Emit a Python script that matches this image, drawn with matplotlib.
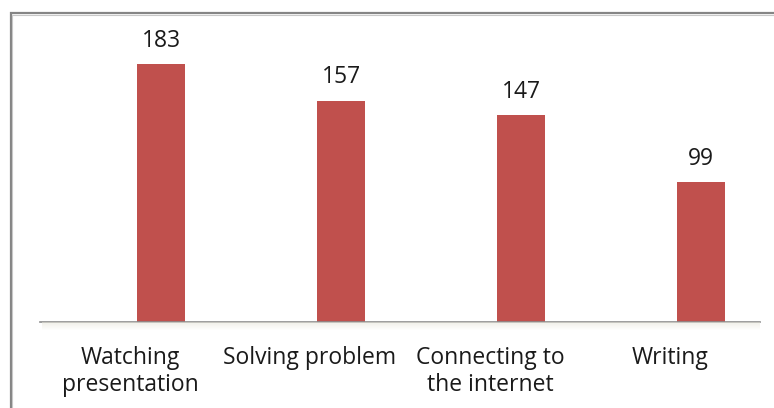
import matplotlib
matplotlib.use("Agg")
import matplotlib.pyplot as plt
import numpy as np
from matplotlib.patches import Rectangle

categories = ["Watching\npresentation", "Solving problem", "Connecting to\nthe internet", "Writing"]
values = [183, 157, 147, 99]

_BAR = "#c0504d"
_AX = "#8c8c8c"
_TXT = "#1a1a1a"

fig = plt.figure(figsize=(7.74, 4.08), dpi=100, facecolor="white")
plt.rcParams["font.family"] = ["Open Sans", "DejaVu Sans"]

# outer frame (runs off the right/bottom edge)
W, H = 774, 408
fig.patches.append(Rectangle((11 / W, -0.1), 1.2, (H - 13) / H + 0.1,
                             transform=fig.transFigure, fill=False,
                             edgecolor="#858585", linewidth=1.6, zorder=0))
fig.patches.append(Rectangle((12.5 / W, -0.1), 1.2, (H - 14.5) / H + 0.1,
                             transform=fig.transFigure, fill=False,
                             edgecolor="#c8c8c8", linewidth=0.8, zorder=0))

ax = fig.add_axes([40 / W, (H - 322) / H, 720 / W, 275 / H])
ax.set_facecolor("white")

# soft shadow under the plot area
for k in range(8):
    fig.patches.append(Rectangle((42 / W, (H - 322 - k - 1) / H), 718 / W, 1 / H,
                                 transform=fig.transFigure, facecolor="#e6e4d8",
                                 edgecolor="none", alpha=0.55 * (1 - k / 8), zorder=1))

x = np.arange(len(categories))
off = 31 / 180
bars = ax.bar(x + off, values, width=48 / 180, color=_BAR, zorder=2)

for xi, v in zip(x, values):
    ax.annotate(str(v), (xi + off, v), xytext=(0, 8), textcoords="offset points",
                ha="center", va="bottom", fontsize=16.5, color=_TXT)

ax.set_xlim(-0.5, 3.5)
ax.set_ylim(0, 195)
ax.set_yticks([])
ax.set_xticks(x)
ax.set_xticklabels(categories, fontsize=16.5, color=_TXT, linespacing=1.2)
ax.tick_params(axis="x", length=0, pad=17)
for s in ["top", "left", "right"]:
    ax.spines[s].set_visible(False)
ax.spines["bottom"].set_color(_AX)
ax.spines["bottom"].set_linewidth(1.2)

fig.savefig("out.png", dpi=100, facecolor="white")
